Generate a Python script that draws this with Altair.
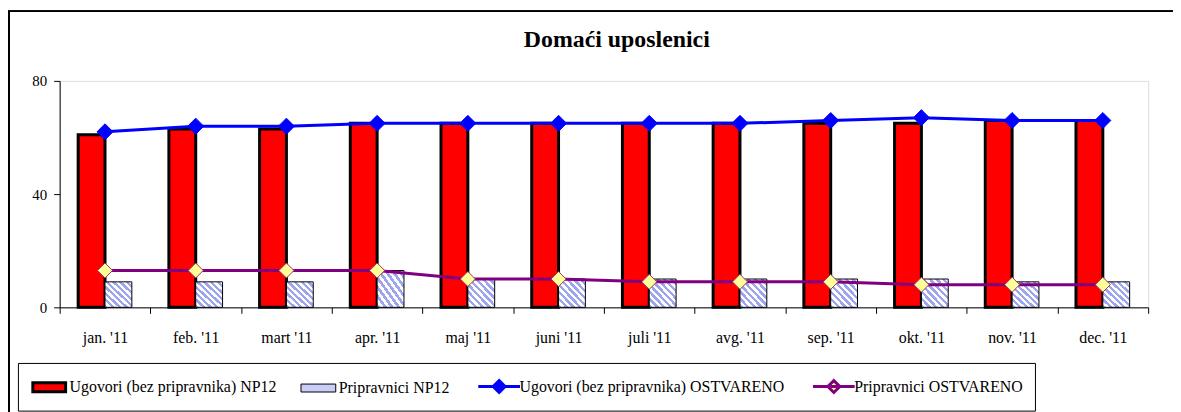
import altair as alt
import pandas as pd

months = ["jan. '11", "feb. '11", "mart '11", "apr. '11", "maj '11", "juni '11",
          "juli '11", "avg. '11", "sep. '11", "okt. '11", "nov. '11", "dec. '11"]
ugovori_np12 = [61, 63, 63, 65, 65, 65, 65, 65, 65, 65, 66, 66]
pripravnici_np12 = [9, 9, 9, 13, 10, 10, 10, 10, 10, 10, 9, 9]
ugovori_ostvareno = [62, 64, 64, 65, 65, 65, 65, 65, 66, 67, 66, 66]
pripravnici_ostvareno = [13, 13, 13, 13, 10, 10, 9, 9, 9, 8, 8, 8]
series_names = ["Ugovori (bez pripravnika) NP12", "Pripravnici NP12",
                "Ugovori (bez pripravnika) OSTVARENO", "Pripravnici OSTVARENO"]
y_ticks = [0, 40, 80]

S0, S1, S2, S3 = series_names
FONT = "Times New Roman, Liberation Serif, Times, serif"

bars = pd.DataFrame({
    "month": months * 2,
    "series": [S0] * len(months) + [S1] * len(months),
    "value": ugovori_np12 + pripravnici_np12,
})
lines = pd.DataFrame({
    "month": months * 2,
    "series": [S2] * len(months) + [S3] * len(months),
    "value": ugovori_ostvareno + pripravnici_ostvareno,
})
legend_df = pd.DataFrame({"series": series_names})

# diagonal hatch built as a striped gradient
def hatch(n=8, frac=0.5, c1="#9ea5f0", c2="#ffffff"):
    stops = []
    for i in range(n):
        a, b, c = i / n, (i + frac) / n, (i + 1) / n
        stops += [alt.GradientStop(offset=a, color=c1), alt.GradientStop(offset=b, color=c1),
                  alt.GradientStop(offset=b, color=c2), alt.GradientStop(offset=c, color=c2)]
    return alt.LinearGradient(gradient="linear", stops=stops, x1=0, y1=1, x2=1, y2=0)

x_enc = alt.X("month:N", sort=months,
              scale=alt.Scale(domain=months, paddingInner=0, paddingOuter=0),
              axis=alt.Axis(title=None, labelAngle=0, tickBand="extent", tickSize=6,
                            labelPadding=16, labelFont=FONT, labelFontSize=16,
                            labelColor="#000000", domainColor="#000000", tickColor="#000000",
                            grid=False))
y_enc = alt.Y("value:Q", scale=alt.Scale(domain=[0, 80], nice=False, zero=True),
              axis=alt.Axis(title=None, values=y_ticks, tickSize=6, labelPadding=7,
                            labelFont=FONT, labelFontSize=15, labelColor="#000000",
                            domainColor="#000000", tickColor="#000000", grid=False))
xoff = alt.XOffset("series:N", scale=alt.Scale(domain=[S0, S1], paddingInner=0, paddingOuter=0.69))

red_bars = alt.Chart(bars).transform_filter(alt.datum.series == S0).mark_bar(
    fill="#ff0000", stroke="#000000", strokeWidth=3
).encode(x=x_enc, xOffset=xoff, y=y_enc)

hatch_bars = alt.Chart(bars).transform_filter(alt.datum.series == S1).mark_bar(
    fill=hatch(), stroke="#000000", strokeWidth=1
).encode(x=x_enc, xOffset=xoff, y=y_enc)

blue_line = alt.Chart(lines).transform_filter(alt.datum.series == S2).mark_line(
    color="#0000ff", strokeWidth=3
).encode(x=x_enc, y=y_enc)
blue_pts = alt.Chart(lines).transform_filter(alt.datum.series == S2).mark_point(
    shape="diamond", size=260, filled=True, fill="#0000ff", stroke="#0000ff",
    strokeWidth=1, opacity=1
).encode(x=x_enc, y=y_enc)

purple_line = alt.Chart(lines).transform_filter(alt.datum.series == S3).mark_line(
    color="#800080", strokeWidth=3
).encode(x=x_enc, y=y_enc)
purple_pts = alt.Chart(lines).transform_filter(alt.datum.series == S3).mark_point(
    shape="diamond", size=230, filled=True, fill="#ffff99", stroke="#993366",
    strokeWidth=1, opacity=1
).encode(x=x_enc, y=y_enc)

rect_red = "M-1.65,-0.45H1.65V0.45H-1.65Z"
rect_hatch = "M-1.75,-0.4H1.75V0.4H-1.75Z"
line_dia = "M-2.1,0H2.1M0,-0.6L0.6,0L0,0.6L-0.6,0Z"

leg = alt.Legend(title=None, orient="none", legendX=-42, legendY=284, direction="horizontal",
                 columns=4, padding=12, strokeColor="#000000", fillColor="#ffffff",
                 labelFont=FONT, labelFontSize=16, labelColor="#000000", labelLimit=500,
                 symbolSize=400, symbolOffset=8, labelOffset=9, columnPadding=22)

legend_layer = alt.Chart(legend_df).mark_point(clip=True, opacity=1, filled=True).encode(
    x=alt.value(-600), y=alt.value(-600),
    fill=alt.Fill("series:N", scale=alt.Scale(domain=series_names,
                  range=["#ff0000", "#c9cdf7", "#0000ff", "#ffff99"]), legend=leg),
    stroke=alt.Stroke("series:N", scale=alt.Scale(domain=series_names,
                      range=["#000000", "#000000", "#0000ff", "#800080"]), legend=leg),
    shape=alt.Shape("series:N", scale=alt.Scale(domain=series_names,
                    range=[rect_red, rect_hatch, line_dia, line_dia]), legend=leg),
    strokeWidth=alt.StrokeWidth("series:N", scale=alt.Scale(type="ordinal", domain=series_names,
                                range=[3, 1, 3, 3]), legend=leg),
)

border_top = alt.Chart(legend_df).mark_rule(color="#000000", strokeWidth=1.5).encode(
    x=alt.value(-52), x2=alt.value(1125), y=alt.value(-70))
border_left = alt.Chart(legend_df).mark_rule(color="#000000", strokeWidth=1.5).encode(
    x=alt.value(-51), y=alt.value(-70), y2=alt.value(335))

chart = alt.layer(
    border_top, border_left, red_bars, hatch_bars, blue_line, purple_line,
    blue_pts, purple_pts, legend_layer
).properties(
    width=1096, height=228,
    title=alt.TitleParams("Domaći uposlenici", font=FONT, fontSize=24, fontWeight="bold",
                          color="#000000", anchor="middle", frame="group", dx=13, offset=-42),
    padding={"left": 52, "top": 72, "right": 25, "bottom": 104},
    autosize=alt.AutoSizeParams(type="none"),
).configure_view(
    stroke="#8c8c8c", strokeWidth=1
).configure_axis(
    labelFont=FONT, labelColor="#000000"
).configure_legend(
    labelFont=FONT, labelColor="#000000", labelLimit=500
).configure_text(
    font=FONT
).configure(background="#ffffff", font=FONT)

chart.save("out.html", embed_options={"renderer": "svg", "actions": False})
